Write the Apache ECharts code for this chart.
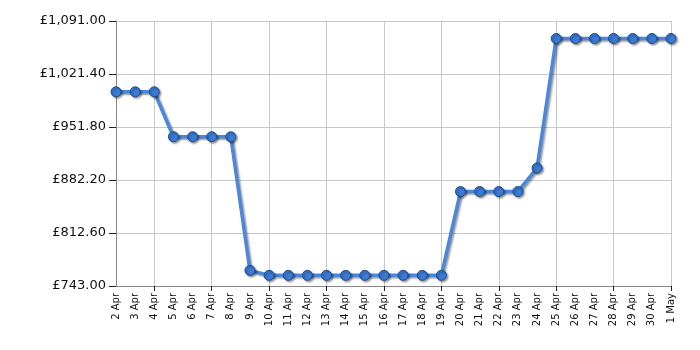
<!DOCTYPE html>
<html>
<head>
    <meta charset="utf-8">
    <script src="https://cdn.jsdelivr.net/npm/echarts@6/dist/echarts.min.js"></script>
</head>
<body style="margin:0;background-color:#ffffff">
    <div id="main" style="width:700px;height:350px;"></div>
    <script type="text/javascript">
        var days = ['2 Apr','3 Apr','4 Apr','5 Apr','6 Apr','7 Apr','8 Apr','9 Apr','10 Apr','11 Apr',
            '12 Apr','13 Apr','14 Apr','15 Apr','16 Apr','17 Apr','18 Apr','19 Apr','20 Apr','21 Apr',
            '22 Apr','23 Apr','24 Apr','25 Apr','26 Apr','27 Apr','28 Apr','29 Apr','30 Apr','1 May'];
        var prices = [998, 998, 998, 939, 939, 939, 939, 763.5, 757, 757,
            757, 757, 757, 757, 757, 757, 757, 757, 867, 867,
            867, 867, 898, 1068, 1068, 1068, 1068, 1068, 1068, 1068];
        var yTicks = [743.00, 812.60, 882.20, 951.80, 1021.40, 1091.00];

        function money(v) {
            var s = v.toFixed(2).split('.');
            s[0] = s[0].replace(/\B(?=(\d{3})+(?!\d))/g, ',');
            return '£' + s[0] + '.' + s[1];
        }
        // grid lines every 3rd day, starting from 4 Apr
        function every3(i) { return i % 3 === 2; }

        var myChart = echarts.init(document.getElementById('main'));
        var option = {
            animation: false,
            grid: { left: 116, right: 29, top: 21, bottom: 64 },
            xAxis: {
                type: 'category',
                data: days,
                boundaryGap: false,
                axisLine: { lineStyle: { color: '#888888', width: 1 } },
                axisTick: { show: true, interval: every3, length: 5, lineStyle: { color: '#222' } },
                axisLabel: {
                    interval: 0, rotate: 90, color: '#111',
                    fontFamily: 'DejaVu Sans', fontSize: 10, margin: 7
                },
                splitLine: { show: true, interval: every3, lineStyle: { color: '#c8c8c8' } }
            },
            yAxis: {
                type: 'value',
                min: 743, max: 1091,
                axisLine: { show: true, lineStyle: { color: '#888888' } },
                axisTick: { show: true, length: 7, customValues: yTicks, lineStyle: { color: '#222' } },
                axisLabel: {
                    customValues: yTicks, formatter: money, color: '#111',
                    fontFamily: 'DejaVu Sans', fontSize: 13, margin: 10
                },
                splitLine: { show: true, lineStyle: { color: '#c8c8c8' } }
            },
            series: [{
                type: 'line',
                data: prices,
                symbol: 'circle',
                symbolSize: 10,
                lineStyle: {
                    color: '#4a88dc', width: 3.5,
                    shadowColor: 'rgba(0,0,0,0.4)', shadowBlur: 2, shadowOffsetX: 1.5, shadowOffsetY: 1.5
                },
                itemStyle: {
                    color: '#3a7bd5', borderColor: '#1d4a8c', borderWidth: 1,
                    shadowColor: 'rgba(0,0,0,0.4)', shadowBlur: 2, shadowOffsetX: 1.5, shadowOffsetY: 1.5
                }
            }]
        };
        myChart.setOption(option);
    </script>
</body>
</html>
